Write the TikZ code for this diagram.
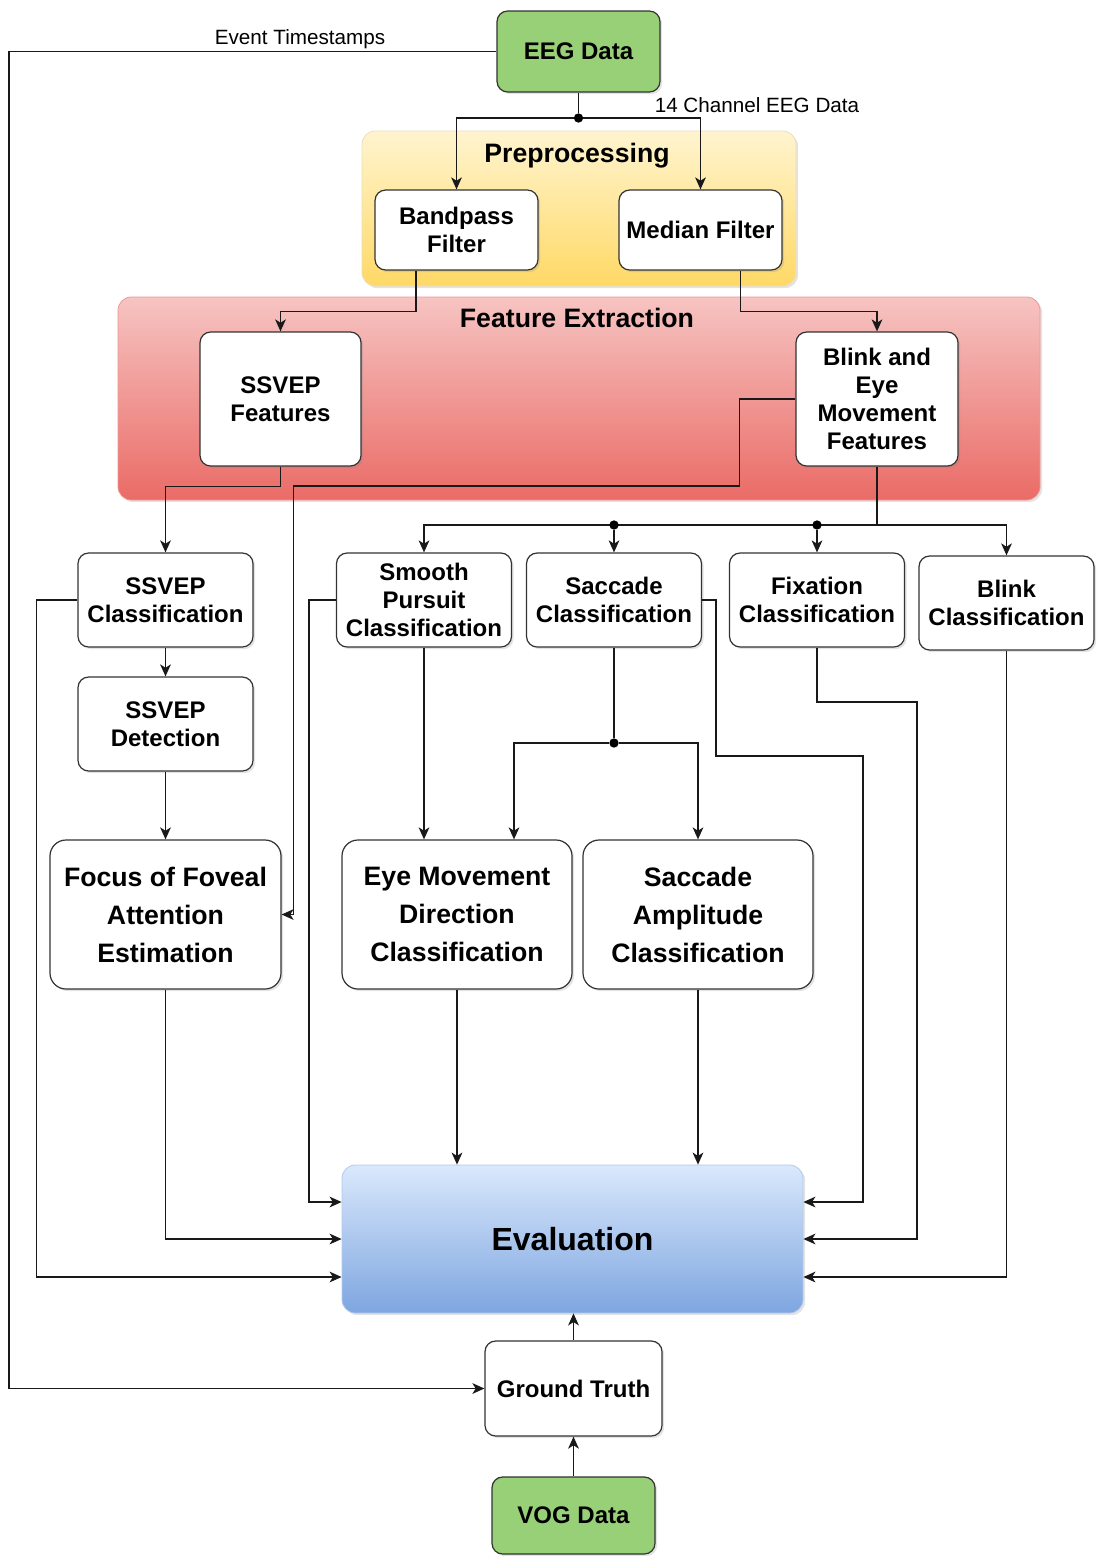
\documentclass[tikz,border=0pt]{standalone}
\usepackage{fontspec}
\setmainfont{Liberation Sans}
\usetikzlibrary{arrows.meta,shadows,calc}
\definecolor{gfill}{HTML}{97D077}
\definecolor{ytop}{HTML}{FFF4CF}
\definecolor{ybot}{HTML}{FFD966}
\definecolor{rtop}{HTML}{F6C4C2}
\definecolor{rbot}{HTML}{EA6B66}
\definecolor{btop}{HTML}{DAE8FC}
\definecolor{bbot}{HTML}{7EA6E0}
\definecolor{edgec}{HTML}{333333}
\tikzset{
  shad/.style={drop shadow={opacity=0.22,shadow xshift=1.6pt,shadow yshift=-1.6pt}},
  box/.style={draw=edgec, line width=0.9pt, fill=white, rounded corners=8pt, align=center,
    inner sep=0pt, font=\fontsize{18}{21}\selectfont\bfseries, shad},
  bigbox/.style={box, rounded corners=12pt, font=\fontsize{20}{28.5}\selectfont\bfseries},
  greenbox/.style={box, fill=gfill},
  container/.style={rounded corners=10pt, line width=0.6pt, inner sep=0pt, shad},
  title/.style={font=\fontsize{20}{24}\selectfont\bfseries, inner sep=0pt},
  elabel/.style={font=\fontsize{15.5}{18}\selectfont, inner sep=0pt},
  conn/.style={draw=black!90, line width=1.25pt},
  arr/.style={conn, -{Stealth[length=9pt,width=8pt,inset=2.5pt]}},
  dot/.style={circle, fill=black, inner sep=0pt, minimum size=7pt},
}
\begin{document}
\begin{tikzpicture}[x=0.75pt,y=-0.75pt]
\useasboundingbox (0,0) rectangle (1096,1556);

% containers
\node[container, draw=ybot!80!black!40, top color=ytop, bottom color=ybot,
  minimum width=325.5pt, minimum height=116.25pt] (pre) at (579,208.5) {};
\node[title] (pret) at (577,156) {Preprocessing};
\node[container, draw=rbot!70, top color=rtop, bottom color=rbot,
  minimum width=691.5pt, minimum height=152.25pt] (fe) at (579,398.5) {};
\node[title] (fet) at (577,318) {Feature Extraction};

% nodes
\node[greenbox, minimum width=122.25pt, minimum height=60.75pt] (eeg) at (578.5,51.5) {EEG Data};
\node[box, minimum width=122.25pt, minimum height=60pt] (bp) at (456.5,230) {Bandpass\\Filter};
\node[box, minimum width=122.25pt, minimum height=60pt] (med) at (700.5,230) {Median Filter};
\node[box, minimum width=120.75pt, minimum height=100.5pt] (sf) at (280.5,399) {SSVEP\\Features};
\node[box, minimum width=121.5pt, minimum height=100.5pt] (bf) at (877,399) {Blink and\\Eye\\Movement\\Features};
\node[box, minimum width=131.25pt, minimum height=70.5pt] (sc) at (165.5,600) {SSVEP\\Classification};
\node[box, minimum width=131.25pt, minimum height=70.5pt] (sp) at (424,600) {Smooth\\Pursuit\\Classification};
\node[box, minimum width=131.25pt, minimum height=70.5pt] (sa) at (614,600) {Saccade\\Classification};
\node[box, minimum width=131.25pt, minimum height=70.5pt] (fx) at (817,600) {Fixation\\Classification};
\node[box, minimum width=131.25pt, minimum height=70.5pt] (bc) at (1006.5,603) {Blink\\Classification};
\node[box, minimum width=131.25pt, minimum height=70.5pt] (sd) at (165.5,724) {SSVEP\\Detection};
\node[bigbox, minimum width=173.25pt, minimum height=111.75pt] (foc) at (165.5,914.5) {Focus of Foveal\\Attention\\Estimation};
\node[bigbox, minimum width=172.5pt, minimum height=111.75pt] (emd) at (457,914.5) {Eye Movement\\Direction\\Classification};
\node[bigbox, minimum width=172.5pt, minimum height=111.75pt] (sac) at (698,914.5) {Saccade\\Amplitude\\Classification};
\node[container, top color=btop, bottom color=bbot, draw=bbot!60,
  minimum width=345.75pt, minimum height=111pt, font=\fontsize{24}{28}\selectfont\bfseries] (ev) at (572.5,1239) {Evaluation};
\node[box, minimum width=132.75pt, minimum height=71.25pt] (gt) at (573.5,1388.5) {Ground Truth};
\node[greenbox, minimum width=122.25pt, minimum height=57.75pt] (vog) at (573.5,1515.5) {VOG Data};

% labels
\node[elabel] (lts) at (300,39) {Event Timestamps};
\node[elabel] (lch) at (757,105) {14 Channel EEG Data};

% EEG -> ground truth (event timestamps)
\coordinate (cl) at (9,1388.5);
\draw[arr] (eeg.west) -| (cl) -- (gt.west);

% EEG -> filters
\node[dot] (d1) at (578.5,118) {};
\draw[conn] (eeg.south) -- (d1);
\draw[arr] (d1) -| (bp.north);
\draw[arr] (d1) -| (med.north);

% filters -> features
\draw[arr] ([xshift=-30.4pt]bp.south) -- ++(0,41) -| (sf.north);
\draw[arr] ([xshift=30pt]med.south) -- ++(0,41) -| (bf.north);

% SSVEP features -> SSVEP classification
\draw[arr] (sf.south) -- ++(0,20) -| (sc.north);

% Blink features -> focus
\draw[arr] (bf.west) -- ++(-56,0) -- ++(0,87) -- ++(-446,0) |- (foc.east);

% Blink features -> classifications
\coordinate (jb) at (877,525);
\draw[conn] (bf.south) -- (jb);
\draw[arr] (jb) -| (bc.north);
\draw[arr] (jb) -| (sp.north);
\node[dot] (d2) at (614,525) {};
\node[dot] (d3) at (817,525) {};
\draw[arr] (d2) -- (sa.north);
\draw[arr] (d3) -- (fx.north);

% SSVEP chain
\draw[arr] (sc) -- (sd);
\draw[arr] (sd) -- (foc);

% smooth pursuit -> EMD
\draw[arr] (sp.south) -- (sp.south |- emd.north);

% saccade -> EMD, SAC
\node[dot] (d4) at (614,743) {};
\draw[conn] (sa.south) -- (d4);
\draw[arr] (d4) -| ([xshift=42.75pt]emd.north);
\draw[arr] (d4) -| (sac.north);

% to evaluation, left side
\draw[arr] (sc.west) -- ++(-41,0) |- ([yshift=-28.5pt]ev.west);
\draw[arr] (sp.west) -- ++(-27,0) |- ([yshift=27.75pt]ev.west);
\draw[arr] (foc.south) |- (ev.west);

% to evaluation, top
\draw[arr] (emd.south) -- (emd.south |- ev.north);
\draw[arr] (sac.south) -- (sac.south |- ev.north);

% to evaluation, right side
\coordinate (r1) at (863,756);
\coordinate (r2) at (917,702);
\draw[arr] (sa.east) -- ++(14,0) |- (r1) |- ([yshift=27.75pt]ev.east);
\draw[arr] (fx.south) |- (r2) |- (ev.east);
\draw[arr] (bc.south) |- ([yshift=-28.5pt]ev.east);

% bottom
\draw[arr] (gt.north) -- (gt.north |- ev.south);
\draw[arr] (vog.north) -- (gt.south);
\end{tikzpicture}
\end{document}
